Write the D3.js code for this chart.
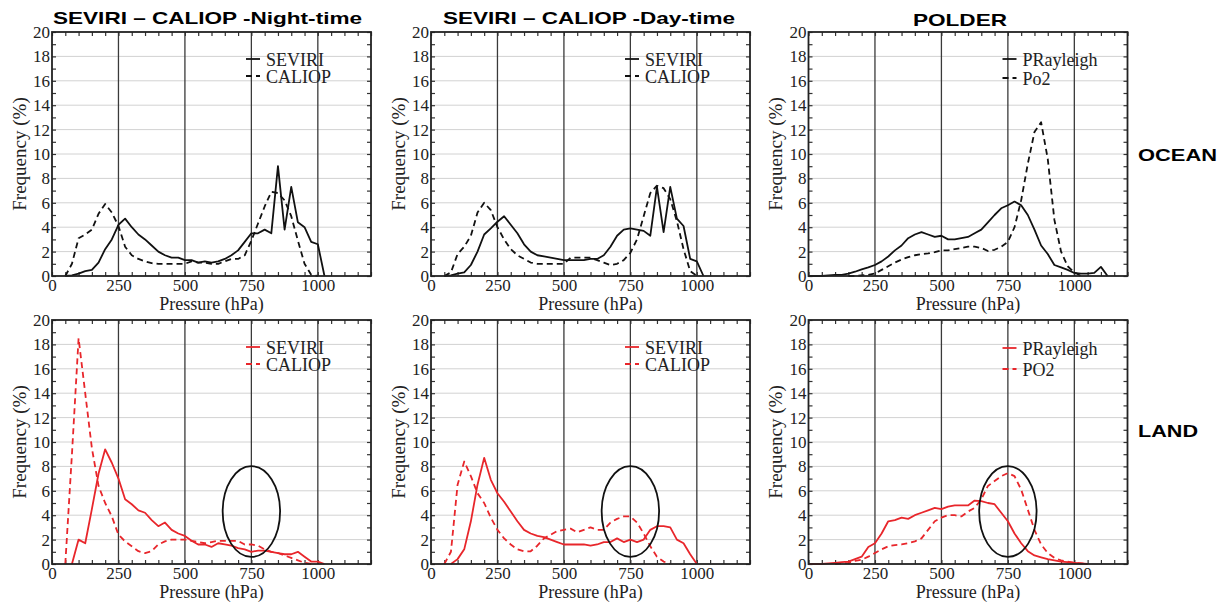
<!DOCTYPE html>
<html>
<head>
<meta charset="utf-8">
<script src="https://cdn.jsdelivr.net/npm/d3@7"></script>
<style>
  html, body { margin: 0; padding: 0; background: #fff; }
  svg { display: block; }
  .serif { font-family: 'Liberation Serif', 'Times New Roman', 'DejaVu Serif', serif; }
</style>
</head>
<body>
<div id="chart"><svg width="1228" height="602"></svg></div>
<script>
// pressure bins (hPa), shared by every series
const PRESSURE = [0, 25, 50, 75, 100, 125, 150, 175, 200, 225, 250, 275, 300, 325, 350, 375, 400, 425, 450, 475,
  500, 525, 550, 575, 600, 625, 650, 675, 700, 725, 750, 775, 800, 825, 850, 875, 900, 925, 950, 975,
  1000, 1025, 1050, 1075, 1100, 1125, 1150];

const _ = null;

// OCEAN, night
const OCEAN_NIGHT_SEVIRI = [_, _, 0, 0.05, 0.2, 0.4, 0.5, 1.1, 2.2, 3.0, 4.2, 4.7, 4.0, 3.4, 3.0, 2.5, 2.0, 1.7, 1.5, 1.5,
  1.3, 1.3, 1.1, 1.2, 1.1, 1.2, 1.4, 1.7, 2.1, 2.8, 3.5, 3.5, 3.8, 3.5, 9.0, 3.8, 7.3, 4.4, 4.0, 2.8,
  2.6, 0, _, _, _, _, _];
const OCEAN_NIGHT_CALIOP = [_, _, 0, 1.0, 3.1, 3.4, 3.8, 5.1, 5.9, 5.2, 4.1, 2.4, 1.7, 1.4, 1.2, 1.05, 1.0, 1.0, 1.0, 1.0,
  1.0, 1.2, 1.1, 1.1, 1.0, 1.0, 1.2, 1.4, 1.4, 1.7, 2.9, 4.3, 5.7, 6.9, 6.8, 6.2, 4.9, 2.9, 1.0, 0.1,
  0, _, _, _, _, _, _];

// OCEAN, day
const OCEAN_DAY_SEVIRI = [_, _, 0, 0.05, 0.2, 0.3, 0.9, 2.0, 3.4, 3.9, 4.45, 4.9, 4.2, 3.5, 2.6, 2.0, 1.7, 1.6, 1.5, 1.4,
  1.3, 1.3, 1.3, 1.3, 1.4, 1.4, 1.7, 2.4, 3.3, 3.8, 3.9, 3.8, 3.7, 3.3, 7.3, 3.6, 7.3, 4.7, 4.1, 1.4,
  1.2, 0, _, _, _, _, _];
const OCEAN_DAY_CALIOP = [_, _, 0, 0.3, 1.8, 2.4, 3.3, 5.2, 6.0, 5.4, 4.0, 3.0, 2.2, 1.7, 1.4, 1.1, 1.0, 1.0, 1.0, 1.0,
  1.0, 1.5, 1.5, 1.5, 1.5, 1.3, 1.1, 0.9, 1.0, 1.3, 1.9, 3.0, 4.9, 6.8, 7.4, 7.2, 6.3, 4.5, 2.2, 0.4,
  0, _, _, _, _, _, _];

// OCEAN, POLDER
const OCEAN_PRAYLEIGH = [0, 0, 0, 0.05, 0.1, 0.1, 0.2, 0.35, 0.55, 0.7, 0.9, 1.2, 1.6, 2.1, 2.5, 3.1, 3.4, 3.6, 3.4, 3.2,
  3.3, 3.0, 3.0, 3.1, 3.2, 3.5, 3.8, 4.4, 5.0, 5.55, 5.8, 6.1, 5.8, 5.0, 3.8, 2.5, 1.8, 0.9, 0.7, 0.5,
  0.25, 0.2, 0.2, 0.25, 0.75, 0, _];
const OCEAN_PO2 = [_, _, _, _, _, _, 0, 0, 0.05, 0.1, 0.2, 0.5, 0.8, 1.1, 1.35, 1.55, 1.7, 1.8, 1.85, 1.95,
  2.1, 2.1, 2.2, 2.3, 2.4, 2.4, 2.3, 2.05, 2.15, 2.4, 2.8, 4.0, 6.2, 9.2, 11.8, 12.6, 9.6, 4.6, 2.0, 0.8,
  0.3, 0, _, _, _, _, _];

// LAND, night
const LAND_NIGHT_SEVIRI = [_, _, _, 0, 2.0, 1.7, 4.5, 7.4, 9.4, 8.3, 7.0, 5.3, 4.9, 4.4, 4.2, 3.6, 3.1, 3.4, 2.8, 2.5,
  2.3, 1.9, 1.6, 1.6, 1.4, 1.7, 1.6, 1.5, 1.3, 1.2, 1.0, 1.1, 1.1, 1.0, 0.9, 0.8, 0.8, 1.0, 0.6, 0.2,
  0.2, 0, _, _, _, _, _];
const LAND_NIGHT_CALIOP = [_, _, 0, 9.0, 18.5, 14.0, 9.5, 6.4, 5.0, 3.9, 2.4, 1.85, 1.45, 1.05, 0.9, 1.05, 1.6, 1.85, 2.0, 2.0,
  2.0, 1.9, 1.8, 1.7, 1.8, 1.9, 1.9, 1.9, 1.9, 1.6, 1.6, 1.5, 1.2, 1.0, 0.9, 0.7, 0.5, 0.3, 0.1, 0,
  _, _, _, _, _, _, _];

// LAND, day
const LAND_DAY_SEVIRI = [_, _, _, 0, 0.4, 1.2, 3.5, 6.5, 8.7, 6.9, 5.8, 5.1, 4.3, 3.5, 2.8, 2.5, 2.3, 2.2, 2.0, 1.8,
  1.6, 1.6, 1.6, 1.6, 1.5, 1.6, 1.8, 1.8, 2.1, 1.8, 2.0, 1.8, 2.0, 2.8, 3.1, 3.1, 3.0, 2.0, 1.7, 0.8,
  0, _, _, _, _, _, _];
const LAND_DAY_CALIOP = [_, _, 0, 1.0, 6.5, 8.4, 7.2, 5.8, 5.0, 3.8, 2.8, 2.1, 1.6, 1.2, 1.04, 1.04, 1.5, 2.1, 2.4, 2.7,
  2.8, 2.9, 2.6, 2.8, 3.0, 2.8, 2.8, 3.4, 3.7, 3.9, 3.9, 3.4, 2.5, 1.45, 0.6, 0.2, 0, _, _, _,
  _, _, _, _, _, _, _];

// LAND, POLDER
const LAND_PRAYLEIGH = [0, 0, 0, 0.05, 0.1, 0.15, 0.2, 0.4, 0.6, 1.4, 1.7, 2.5, 3.5, 3.6, 3.8, 3.7, 4.0, 4.2, 4.4, 4.6,
  4.5, 4.7, 4.8, 4.8, 4.8, 5.2, 5.15, 5.0, 4.9, 4.2, 3.5, 2.5, 1.7, 1.05, 0.7, 0.55, 0.4, 0.3, 0.2, 0.15,
  0.1, 0.05, 0, _, _, _, _];
const LAND_PO2 = [_, _, _, _, 0, 0.05, 0.1, 0.25, 0.35, 0.6, 0.9, 1.2, 1.45, 1.55, 1.6, 1.7, 1.85, 2.1, 2.8, 3.5,
  3.8, 4.0, 4.0, 3.9, 4.3, 4.6, 5.3, 6.4, 6.8, 7.2, 7.45, 7.2, 6.1, 4.45, 2.8, 1.6, 0.9, 0.5, 0.3, 0.2,
  0.1, 0.05, 0, _, _, _, _];

const TITLES = ['SEVIRI \u2013 CALIOP -Night-time', 'SEVIRI \u2013 CALIOP -Day-time', 'POLDER'];
const ROW_LABELS = ['OCEAN', 'LAND'];
const X_TICKS = [0, 250, 500, 750, 1000];
const Y_TICKS = [0, 2, 4, 6, 8, 10, 12, 14, 16, 18, 20];
const X_MINOR = [0, 50, 100, 150, 200, 250, 300, 350, 400, 450, 500, 550, 600, 650, 700, 750, 800, 850, 900, 950, 1000, 1050, 1100, 1150, 1200];
const Y_MINOR = [1, 3, 5, 7, 9, 11, 13, 15, 17, 19];
const V_LINES = [250, 500, 750, 1000];
const H_LINES = [2, 4, 6, 8, 10, 12, 14, 16, 18];

// circled region (hPa centre, % centre, hPa radius, % radius) on the LAND row
const ELLIPSE = { cx: 750, cy: 4.3, rx: 108, ry: 3.72 };

const BLACK = '#111';
const RED = '#e8262b';

const PANELS = [
  { col: 0, row: 0, color: BLACK, names: ['SEVIRI', 'CALIOP'], series: [OCEAN_NIGHT_SEVIRI, OCEAN_NIGHT_CALIOP], leg: [34, 51] },
  { col: 1, row: 0, color: BLACK, names: ['SEVIRI', 'CALIOP'], series: [OCEAN_DAY_SEVIRI, OCEAN_DAY_CALIOP], leg: [34, 51] },
  { col: 2, row: 0, color: BLACK, names: ['PRayleigh', 'Po2'], series: [OCEAN_PRAYLEIGH, OCEAN_PO2], leg: [34, 53] },
  { col: 0, row: 1, color: RED, names: ['SEVIRI', 'CALIOP'], series: [LAND_NIGHT_SEVIRI, LAND_NIGHT_CALIOP], leg: [34, 51], ellipse: true },
  { col: 1, row: 1, color: RED, names: ['SEVIRI', 'CALIOP'], series: [LAND_DAY_SEVIRI, LAND_DAY_CALIOP], leg: [34, 51], ellipse: true },
  { col: 2, row: 1, color: RED, names: ['PRayleigh', 'PO2'], series: [LAND_PRAYLEIGH, LAND_PO2], leg: [35, 56], ellipse: true },
];

const SVG = d3.select('#chart svg');
SVG.append('rect').attr('width', 1228).attr('height', 602).attr('fill', '#fff');

const COL_LEFT = [52, 431, 808.5];
const ROW_TOP = [32, 320];
const W = 319;
const H = 244;
const SERIF = "'Liberation Serif', 'Times New Roman', 'DejaVu Serif', serif";
const SANS = "'Liberation Sans', Arial, sans-serif";
const DASH = '6,4';

PANELS.forEach((p) => {
  const LEFT = COL_LEFT[p.col];
  const TOP = ROW_TOP[p.row];
  const X = d3.scaleLinear().domain([0, 1200]).range([LEFT, LEFT + W]);
  const Y = d3.scaleLinear().domain([0, 20]).range([TOP + H, TOP]);
  const G = SVG.append('g').attr('class', 'panel');

  // grid
  G.append('g')
    .selectAll('line')
    .data(H_LINES)
    .join('line')
    .attr('x1', LEFT).attr('x2', LEFT + W)
    .attr('y1', (d) => Y(d)).attr('y2', (d) => Y(d))
    .style('stroke', '#d2d2d2')
    .style('stroke-width', 1);
  G.append('g')
    .selectAll('line')
    .data(V_LINES)
    .join('line')
    .attr('x1', (d) => X(d)).attr('x2', (d) => X(d))
    .attr('y1', TOP).attr('y2', TOP + H)
    .style('stroke', '#3a3a3a')
    .style('stroke-width', 1.3);

  // minor inward ticks on all four sides
  const tickStyle = (g) => {
    g.select('.domain').remove();
    g.selectAll('line').style('stroke', '#333').style('stroke-width', 1.2);
  };
  G.append('g').attr('transform', `translate(0,${TOP + H})`)
    .call(d3.axisBottom(X).tickValues(X_MINOR).tickSize(-4).tickFormat(''))
    .call(tickStyle);
  G.append('g').attr('transform', `translate(0,${TOP})`)
    .call(d3.axisTop(X).tickValues(X_MINOR).tickSize(-4).tickFormat(''))
    .call(tickStyle);
  G.append('g').attr('transform', `translate(${LEFT},0)`)
    .call(d3.axisLeft(Y).tickValues(Y_MINOR.concat(Y_TICKS)).tickSize(-4).tickFormat(''))
    .call(tickStyle);
  G.append('g').attr('transform', `translate(${LEFT + W},0)`)
    .call(d3.axisRight(Y).tickValues(Y_MINOR.concat(Y_TICKS)).tickSize(-4).tickFormat(''))
    .call(tickStyle);

  // tick labels
  const X_AXIS = G.append('g').attr('transform', `translate(0,${TOP + H})`)
    .call(d3.axisBottom(X).tickValues(X_TICKS).tickSize(0).tickPadding(3).tickFormat(d3.format('d')));
  X_AXIS.select('.domain').remove();
  X_AXIS.attr('font-family', null).attr('font-size', null).attr('class', 'serif');
  X_AXIS.selectAll('text').attr('class', 'serif').style('font-size', '17px').style('fill', '#222');

  const Y_AXIS = G.append('g').attr('transform', `translate(${LEFT},0)`)
    .call(d3.axisLeft(Y).tickValues(Y_TICKS).tickSize(0).tickPadding(2).tickFormat(d3.format('d')));
  Y_AXIS.select('.domain').remove();
  Y_AXIS.attr('font-family', null).attr('font-size', null).attr('class', 'serif');
  Y_AXIS.selectAll('text').attr('class', 'serif').style('font-size', '17px').style('fill', '#222');

  // axis titles
  G.append('text')
    .attr('class', 'serif')
    .attr('x', LEFT + W / 2)
    .attr('y', TOP + H + 34)
    .attr('text-anchor', 'middle')
    .style('font-size', '18px')
    .style('fill', '#222')
    .text('Pressure (hPa)');
  G.append('text')
    .attr('class', 'serif')
    .attr('transform', `translate(${LEFT - 33},${TOP + H / 2}) rotate(-90)`)
    .attr('dy', '0.35em')
    .attr('text-anchor', 'middle')
    .style('font-size', '19px')
    .style('fill', '#222')
    .text('Frequency (%)');

  // curves
  const LINE = d3.line()
    .defined((d) => d !== null)
    .x((d, i) => X(PRESSURE[i]))
    .y((d) => Y(d));
  G.append('g')
    .selectAll('path')
    .data(p.series)
    .join('path')
    .attr('d', (d) => LINE(d))
    .style('fill', 'none')
    .style('stroke', p.color)
    .style('stroke-width', 1.8)
    .style('stroke-linejoin', 'round')
    .style('stroke-dasharray', (d, i) => (i === 1 ? DASH : null));

  if (p.ellipse) {
    G.append('ellipse')
      .attr('cx', X(ELLIPSE.cx))
      .attr('cy', Y(ELLIPSE.cy))
      .attr('rx', X(ELLIPSE.rx) - X(0))
      .attr('ry', Y(0) - Y(ELLIPSE.ry))
      .style('fill', 'none')
      .style('stroke', '#111')
      .style('stroke-width', 1.8);
  }

  // legend
  const LEG = G.append('g').attr('class', 'legend');
  p.names.forEach((name, i) => {
    const BASE = TOP + p.leg[i];
    LEG.append('line')
      .attr('x1', LEFT + 194).attr('x2', LEFT + 208)
      .attr('y1', BASE - 7).attr('y2', BASE - 7)
      .style('stroke', p.color)
      .style('stroke-width', 1.8)
      .style('stroke-dasharray', i === 1 ? DASH : null);
    LEG.append('text')
      .attr('class', 'serif')
      .attr('x', LEFT + 214)
      .attr('y', BASE)
      .style('font-size', '18px')
      .style('fill', '#222')
      .text(name);
  });

  // frame
  G.append('rect')
    .attr('x', LEFT).attr('y', TOP)
    .attr('width', W).attr('height', H)
    .style('fill', 'none')
    .style('stroke', '#222')
    .style('stroke-width', 1.8);
});

// column titles, drawn wide like the original
const TITLE_POS = [
  { x: 53, y: 24, len: 309 },
  { x: 443, y: 24, len: 292 },
  { x: 913, y: 26, len: 94 },
];
SVG.append('g')
  .selectAll('text')
  .data(TITLES)
  .join('text')
  .attr('x', (d, i) => TITLE_POS[i].x)
  .attr('y', (d, i) => TITLE_POS[i].y)
  .attr('textLength', (d, i) => TITLE_POS[i].len)
  .attr('lengthAdjust', 'spacingAndGlyphs')
  .style('font-family', SANS)
  .style('font-weight', 'bold')
  .style('font-size', '17px')
  .style('fill', '#000')
  .text((d) => d);

const ROW_POS = [
  { x: 1138, y: 161, len: 79 },
  { x: 1138, y: 437, len: 60 },
];
SVG.append('g')
  .selectAll('text')
  .data(ROW_LABELS)
  .join('text')
  .attr('x', (d, i) => ROW_POS[i].x)
  .attr('y', (d, i) => ROW_POS[i].y)
  .attr('textLength', (d, i) => ROW_POS[i].len)
  .attr('lengthAdjust', 'spacingAndGlyphs')
  .style('font-family', SANS)
  .style('font-weight', 'bold')
  .style('font-size', '17px')
  .style('fill', '#000')
  .text((d) => d);
</script>
</body>
</html>
